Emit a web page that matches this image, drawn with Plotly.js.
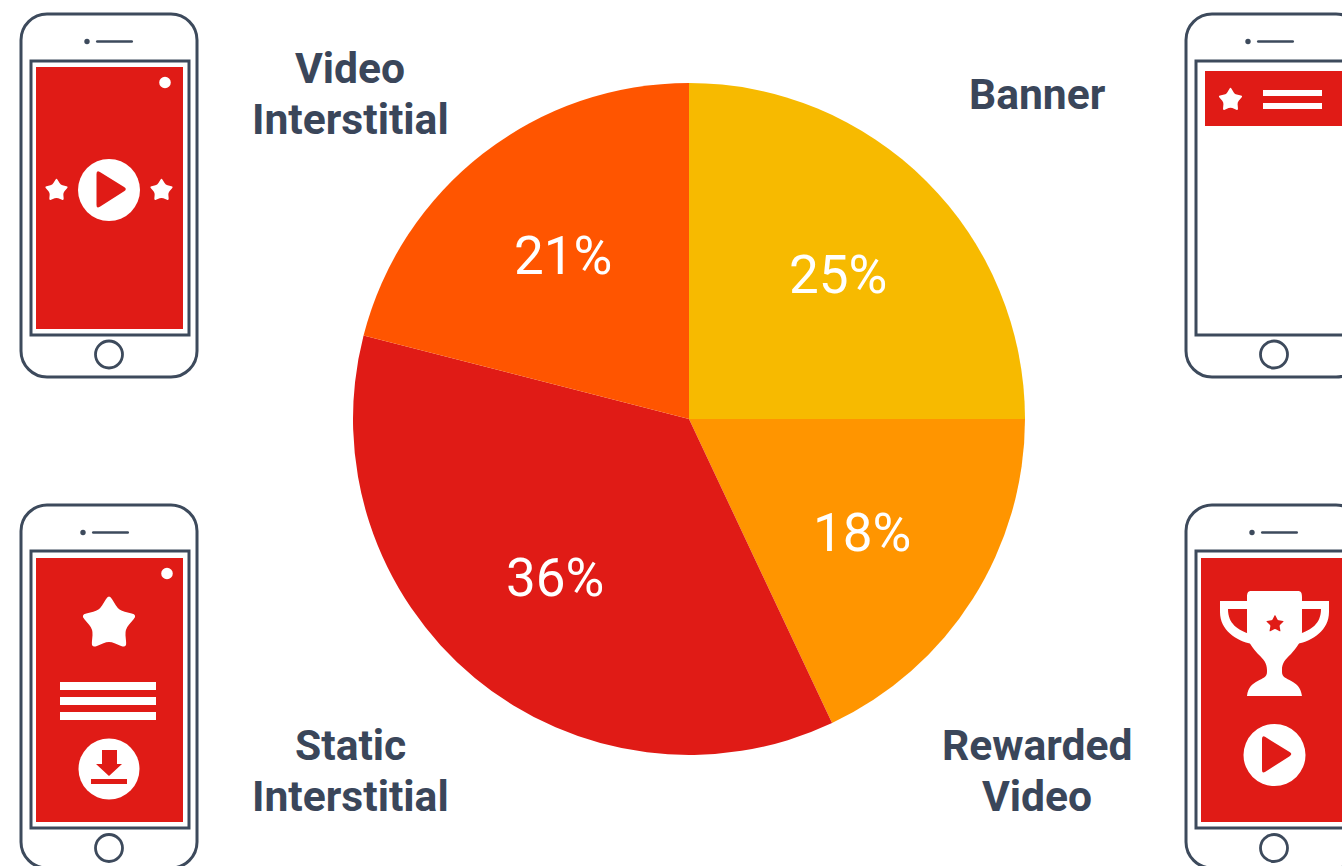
<!DOCTYPE html>
<html>
<head>
<meta charset="utf-8">
<script src="https://cdn.plot.ly/plotly-3.0.1.min.js"></script>
<style>html,body{margin:0;padding:0;background:#fff;overflow:hidden}#chart{width:1342px;height:866px}</style>
</head>
<body>
<div id="chart"></div>
<script>
// Ad format share of revenue
const categories = ['Banner', 'Rewarded Video', 'Static Interstitial', 'Video Interstitial'];
const shares = [25, 18, 36, 21];
const sliceColors = ['#F7BA00', '#FF9500', '#E01B16', '#FF5500'];

const W = 1342, H = 866;
const INK = '#3D4A5C', RED = '#E01B16', WHITE = '#FFFFFF';
const pie = {cx: 689, cy: 419, r: 336};

const px = x => x / W;
const py = y => 1 - y / H;
const shapes = [];

function pathOf(cmds) {
  return cmds.map(c => c[0] + c.slice(1).map((v, i) => (i % 2 ? py(v) : px(v)).toFixed(5)).join(' ').replace(/^/, ' ')).join(' ');
}
function addPath(cmds, fill, stroke, width) {
  shapes.push({type: 'path', xref: 'paper', yref: 'paper', path: pathOf(cmds),
    fillcolor: fill || 'rgba(0,0,0,0)', line: {color: stroke || 'rgba(0,0,0,0)', width: width || 0}});
}
function addRect(x0, y0, x1, y1, fill, stroke, width) {
  shapes.push({type: 'rect', xref: 'paper', yref: 'paper', x0: px(x0), x1: px(x1), y0: py(y0), y1: py(y1),
    fillcolor: fill || 'rgba(0,0,0,0)', line: {color: stroke || 'rgba(0,0,0,0)', width: width || 0}});
}
function addCircle(cx, cy, r, fill, stroke, width) {
  shapes.push({type: 'circle', xref: 'paper', yref: 'paper', x0: px(cx - r), x1: px(cx + r), y0: py(cy - r), y1: py(cy + r),
    fillcolor: fill || 'rgba(0,0,0,0)', line: {color: stroke || 'rgba(0,0,0,0)', width: width || 0}});
}
// Polygon whose corners are softened with quadratic curves
function roundedPoly(points, radius) {
  const n = points.length, cmds = [];
  points.forEach((p, i) => {
    const a = points[(i + n - 1) % n], b = points[(i + 1) % n];
    const da = Math.hypot(a[0] - p[0], a[1] - p[1]), db = Math.hypot(b[0] - p[0], b[1] - p[1]);
    const ra = Math.min(radius, da / 2), rb = Math.min(radius, db / 2);
    const s = [p[0] + (a[0] - p[0]) * ra / da, p[1] + (a[1] - p[1]) * ra / da];
    const e = [p[0] + (b[0] - p[0]) * rb / db, p[1] + (b[1] - p[1]) * rb / db];
    cmds.push([i ? 'L' : 'M', s[0], s[1]]);
    cmds.push(['Q', p[0], p[1], e[0], e[1]]);
  });
  cmds.push(['Z']);
  return cmds;
}
function star(cx, cy, r, fill, inner, soft) {
  const pts = [];
  for (let i = 0; i < 10; i++) {
    const a = -Math.PI / 2 + i * Math.PI / 5, q = i % 2 ? r * inner : r;
    pts.push([cx + q * Math.cos(a), cy + q * Math.sin(a)]);
  }
  addPath(roundedPoly(pts, soft), fill);
}
function playButton(cx, cy, r) {
  addCircle(cx, cy, r, WHITE);
  addPath(roundedPoly([[cx - 12.5, cy - 20], [cx + 18.5, cy - 1], [cx - 12.5, cy + 19]], 4), RED);
}
function phone(left, top, bottom, dotX, screenTop, screenBottom, homeY) {
  const right = left + 176, rad = 26, k = 0.45 * rad;
  addPath([['M', left + rad, top], ['L', right - rad, top], ['C', right - k, top, right, top + k, right, top + rad],
    ['L', right, bottom - rad], ['C', right, bottom - k, right - k, bottom, right - rad, bottom],
    ['L', left + rad, bottom], ['C', left + k, bottom, left, bottom - k, left, bottom - rad],
    ['L', left, top + rad], ['C', left, top + k, left + k, top, left + rad, top], ['Z']], WHITE, INK, 3);
  addCircle(dotX, top + 27.5, 2.7, INK);
  addPath(roundedPoly([[dotX + 9, top + 26.2], [dotX + 46, top + 26.2], [dotX + 46, top + 28.8], [dotX + 9, top + 28.8]], 1.2), INK);
  addRect(left + 10, screenTop, left + 168, screenBottom, WHITE, INK, 3);
  addCircle(left + 88, homeY, 13.5, WHITE, INK, 2.8);
}

// Phone showing a full-screen video ad
phone(21, 14, 377, 87, 61, 335, 354.5);
addRect(36, 67, 183, 329, RED);
addCircle(165, 82.5, 5.8, WHITE);
playButton(109, 190, 31);
star(56.5, 190.5, 12.5, WHITE, 0.56, 2);
star(161.5, 190.5, 12.5, WHITE, 0.56, 2);

// Phone with a banner across the top
phone(1186, 14, 377, 1248, 61, 335, 354.5);
addRect(1205, 71, 1345, 126, RED);
star(1230.5, 100, 13, WHITE, 0.56, 2);
addRect(1263, 90, 1322, 96, WHITE);
addRect(1263, 103, 1322, 109, WHITE);

// Phone with a static full-screen ad
phone(21, 505, 868, 83, 551, 828, 848);
addRect(36, 558, 183, 822, RED);
addCircle(167, 573.5, 5.8, WHITE);
star(109, 624, 30, WHITE, 0.56, 6);
addRect(60, 682, 156, 690, WHITE);
addRect(60, 697, 156, 705, WHITE);
addRect(60, 712, 156, 720, WHITE);
addCircle(109, 769, 30.5, WHITE);
addPath([['M', 102, 750], ['L', 117, 750], ['L', 117, 764], ['L', 122, 764], ['L', 109, 776], ['L', 96, 764], ['L', 102, 764], ['Z']], RED);
addRect(91, 779, 127, 784, RED);

// Phone with a trophy reward screen
phone(1186, 505, 868, 1252, 551, 828, 848);
addRect(1201, 558, 1345, 822, RED);
addPath([['M', 1250, 601], ['L', 1220, 601], ['L', 1220, 612], ['C', 1220, 630, 1236, 641, 1252, 644], ['L', 1250, 634],
  ['C', 1238, 630, 1228, 624, 1228, 609], ['L', 1250, 609], ['Z']], WHITE);
addPath([['M', 1299, 601], ['L', 1329, 601], ['L', 1329, 612], ['C', 1329, 630, 1313, 641, 1297, 644], ['L', 1299, 634],
  ['C', 1311, 630, 1321, 624, 1321, 609], ['L', 1299, 609], ['Z']], WHITE);
addPath([['M', 1251, 591], ['L', 1298, 591], ['C', 1301, 591, 1302, 593, 1302, 597], ['L', 1302, 632],
  ['C', 1302, 642, 1296, 648, 1291, 654], ['C', 1285, 660, 1282, 663, 1282, 670], ['L', 1282, 672],
  ['C', 1282, 682, 1300, 678, 1302, 696], ['L', 1247, 696],
  ['C', 1249, 678, 1267, 682, 1267, 672], ['L', 1267, 670], ['C', 1267, 663, 1264, 660, 1258, 654],
  ['C', 1253, 648, 1247, 642, 1247, 632], ['L', 1247, 597], ['C', 1247, 593, 1248, 591, 1251, 591], ['Z']], WHITE);
star(1275, 624, 9.5, RED, 0.5, 1);
playButton(1274.5, 755, 31);

// Category names, one annotation per line, and the percentage on each slice
const nameAnchors = [[1037, 94], [1037, 745], [350, 745], [350, 68]];
const valueAnchors = [[838, 275], [862, 533], [555, 578], [563, 256]];
const annotations = [];
categories.forEach((name, i) => {
  const [x, y] = nameAnchors[i];
  const words = name.split(' ');
  words.forEach((w, j) => annotations.push({
    xref: 'paper', yref: 'paper', x: px(x), y: py(y + j * 50.5), text: w, showarrow: false,
    xanchor: 'center', yanchor: 'middle', font: {family: 'Roboto', size: 42.6, color: '#3A465A', weight: 700}
  }));
  annotations.push({
    xref: 'paper', yref: 'paper', x: px(valueAnchors[i][0]), y: py(valueAnchors[i][1]), text: shares[i] + '%', showarrow: false,
    xanchor: 'center', yanchor: 'middle', font: {family: 'Roboto', size: 53, color: '#FFFFFF'}
  });
});

const trace = {
  type: 'pie', labels: categories, values: shares, sort: false, direction: 'clockwise', rotation: 0,
  marker: {colors: sliceColors, line: {width: 0}}, textinfo: 'none', hoverinfo: 'label+percent',
  domain: {x: [px(pie.cx - pie.r), px(pie.cx + pie.r)], y: [py(pie.cy + pie.r), py(pie.cy - pie.r)]}
};

Plotly.newPlot('chart', [trace], {
  width: W, height: H, margin: {l: 0, r: 0, t: 0, b: 0}, showlegend: false,
  paper_bgcolor: WHITE, plot_bgcolor: WHITE, shapes, annotations
}, {displayModeBar: false, staticPlot: true});
</script>
</body>
</html>
